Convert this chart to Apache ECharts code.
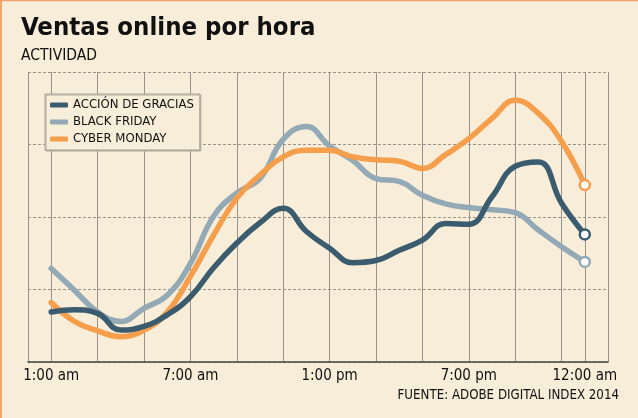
<html>
<head>
    <meta charset="utf-8">
    <script src="https://cdn.jsdelivr.net/npm/echarts@6/dist/echarts.min.js"></script>
</head>
<body style="margin:0;">
<style>
    #main {
        width: 638px;
        height: 418px;
    }
</style>
<div id="main"></div>
<script>
    // hours 0..25 on the axis, series run 1:00 am .. 12:00 am
    var hours = ['', '1:00 am', '', '', '', '', '', '7:00 am', '', '', '', '', '', '1:00 pm',
        '', '', '', '', '', '7:00 pm', '', '', '', '', '12:00 am', ''];

    var accionDeGracias = [0.69, 0.72, 0.67, 0.44, 0.49, 0.65, 0.90, 1.30, 1.64, 1.92, 2.12, 1.80,
        1.57, 1.37, 1.40, 1.54, 1.68, 1.91, 1.90, 2.28, 2.70, 2.76, 2.19, 1.76];
    var blackFriday = [1.29, 0.99, 0.69, 0.56, 0.74, 0.92, 1.36, 2.01, 2.33, 2.53, 3.07, 3.25,
        2.98, 2.78, 2.53, 2.49, 2.30, 2.18, 2.13, 2.10, 2.06, 1.82, 1.59, 1.38];
    var cyberMonday = [0.82, 0.56, 0.43, 0.35, 0.44, 0.69, 1.18, 1.75, 2.26, 2.58, 2.83, 2.92,
        2.92, 2.83, 2.79, 2.77, 2.67, 2.86, 3.08, 3.36, 3.61, 3.43, 3.04, 2.44];

    var names = ['ACCIÓN DE GRACIAS', 'BLACK FRIDAY', 'CYBER MONDAY'];
    var colors = ['#3a5c6e', '#93a9b6', '#f59e4c'];
    var font = '"DejaVu Sans Condensed", "DejaVu Sans", sans-serif';

    var chart = echarts.init(document.getElementById('main'));

    var toSeries = function (name, values, color) {
        var data = ['-'];
        values.forEach(function (v, i) {
            if (i === values.length - 1) {
                data.push({value: v, symbol: 'circle', symbolSize: 10});
            } else {
                data.push(v);
            }
        });
        return {
            name: name,
            type: 'line',
            smooth: 0.45,
            symbol: 'none',
            data: data,
            lineStyle: {color: color, width: 5.5, cap: 'round'},
            itemStyle: {color: '#ffffff', borderColor: color, borderWidth: 2.5},
            z: 3
        };
    };

    var option = {
        backgroundColor: '#f7edd9',
        animation: false,
        textStyle: {fontFamily: font},
        title: [{
            text: 'Ventas online por hora',
            left: 21,
            top: 15,
            padding: 0,
            textStyle: {fontFamily: font, fontWeight: 'bold', fontSize: 25.5, color: '#111'}
        }, {
            text: 'ACTIVIDAD',
            left: 21,
            top: 48,
            padding: 0,
            textStyle: {fontFamily: font, fontWeight: 'normal', fontSize: 15.5, color: '#111'}
        }],
        legend: {
            orient: 'vertical',
            left: 45,
            top: 94,
            padding: [4, 6, 4, 5],
            itemGap: 3,
            itemWidth: 18,
            itemHeight: 5,
            icon: 'roundRect',
            backgroundColor: '#f7edd9',
            borderColor: '#a8a294',
            borderWidth: 1,
            shadowColor: '#b0aa9c',
            shadowOffsetX: 1,
            shadowOffsetY: 1,
            textStyle: {fontFamily: font, fontSize: 13, color: '#111', lineHeight: 14},
            data: names.map(function (n, i) {
                return {name: n, itemStyle: {color: colors[i], borderWidth: 0}};
            })
        },
        grid: {
            left: 28,
            right: 30,
            top: 72,
            bottom: 56
        },
        xAxis: {
            type: 'category',
            boundaryGap: false,
            data: hours,
            axisLine: {lineStyle: {color: '#444', width: 1.5}},
            axisTick: {show: false},
            axisLabel: {
                interval: 0,
                margin: 7,
                fontFamily: font,
                fontSize: 15,
                color: '#111'
            },
            splitLine: {
                show: true,
                interval: function (index) {
                    return index === 0 || index % 2 === 1 || index >= 24;
                },
                lineStyle: {color: '#97928a', width: 1}
            }
        },
        yAxis: {
            type: 'value',
            min: 0,
            max: 4,
            interval: 1,
            axisLine: {show: false},
            axisTick: {show: false},
            axisLabel: {show: false},
            splitLine: {lineStyle: {color: '#999488', type: [3, 2], width: 1}}
        },
        graphic: [{
            type: 'text',
            right: 19,
            top: 389,
            style: {
                text: 'FUENTE: ADOBE DIGITAL INDEX 2014',
                font: '13.2px ' + font,
                fill: '#111'
            }
        }, {
            type: 'line',
            shape: {x1: 0, y1: 0.5, x2: 638, y2: 0.5},
            style: {stroke: '#f2a56b', lineWidth: 1.5}
        }, {
            type: 'line',
            shape: {x1: 1, y1: 0, x2: 1, y2: 418},
            style: {stroke: '#f2a56b', lineWidth: 2}
        }],
        series: [
            toSeries(names[1], blackFriday, colors[1]),
            toSeries(names[2], cyberMonday, colors[2]),
            toSeries(names[0], accionDeGracias, colors[0])
        ]
    };

    chart.setOption(option);
</script>
</body>
</html>
